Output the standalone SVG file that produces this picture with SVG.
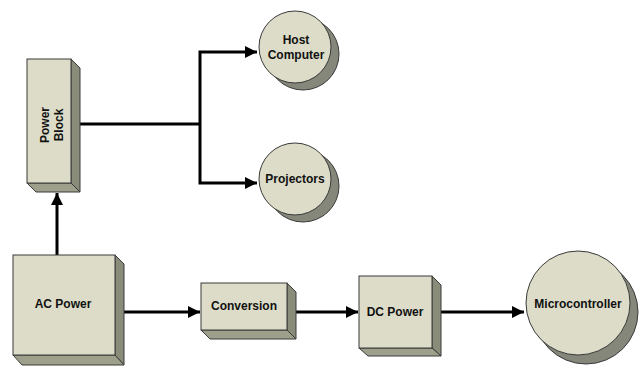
<svg xmlns="http://www.w3.org/2000/svg" width="640" height="367" viewBox="0 0 640 367">
<defs>
<style>
.face{fill:#dcdcc8;stroke:#3a3a3a;stroke-width:1}
.side{fill:#8a8c7a;stroke:#3a3a3a;stroke-width:1}
.bot{fill:#9ea08c;stroke:#3a3a3a;stroke-width:1}
.shadow{fill:#85877a;stroke:#3a3a3a;stroke-width:1}
.lbl{font-family:"Liberation Sans",Arial,sans-serif;font-size:12px;font-weight:bold;fill:#111;text-anchor:middle}
.conn{fill:none;stroke:#000;stroke-width:3}
</style>
<marker id="arr" markerUnits="userSpaceOnUse" markerWidth="12" markerHeight="12" viewBox="0 0 12 12" refX="12" refY="6" orient="auto">
<path d="M0,0 L12,6 L0,12 Z" fill="#000"/>
</marker>
</defs>
<rect width="640" height="367" fill="#fff"/>
<g id="connectors">
<path class="conn" d="M57,255 V193" marker-end="url(#arr)"/>
<path class="conn" d="M78,124 H200"/>
<path class="conn" d="M200,124 V52 H257" marker-end="url(#arr)"/>
<path class="conn" d="M200,124 V183 H257" marker-end="url(#arr)"/>
<path class="conn" d="M121,312 H200" marker-end="url(#arr)"/>
<path class="conn" d="M295,312 H358" marker-end="url(#arr)"/>
<path class="conn" d="M438,312 H524" marker-end="url(#arr)"/>
</g>
<g id="power-block">
<polygon class="side" points="71,59 80,68 80,192 71,183"/>
<polygon class="bot" points="27,183 71,183 80,192 36,192"/>
<rect class="face" x="27" y="59" width="44" height="124"/>
<text class="lbl" transform="translate(52,125) rotate(-90)"><tspan x="0" y="-3">Power</tspan><tspan x="0" y="11">Block</tspan></text>
</g>
<g id="host-computer">
<circle class="shadow" cx="303" cy="54" r="36"/>
<circle class="face" cx="295" cy="47" r="36"/>
<text class="lbl"><tspan x="296" y="44">Host</tspan><tspan x="296" y="59">Computer</tspan></text>
</g>
<g id="projectors">
<circle class="shadow" cx="303" cy="186" r="36"/>
<circle class="face" cx="295" cy="179" r="36"/>
<text class="lbl" x="295" y="183">Projectors</text>
</g>
<g id="ac-power">
<polygon class="side" points="115,255 124,264 124,365 115,355"/>
<polygon class="bot" points="13,355 115,355 124,365 22,365"/>
<rect class="face" x="13" y="255" width="102" height="100"/>
<text class="lbl" x="63" y="308">AC Power</text>
</g>
<g id="conversion">
<polygon class="side" points="287,283 296,292 296,339 287,330"/>
<polygon class="bot" points="201,330 287,330 296,339 210,339"/>
<rect class="face" x="201" y="283" width="86" height="47"/>
<text class="lbl" x="244" y="310">Conversion</text>
</g>
<g id="dc-power">
<polygon class="side" points="432,276 441,285 441,356 432,348"/>
<polygon class="bot" points="359,348 432,348 441,356 368,356"/>
<rect class="face" x="359" y="276" width="73" height="72"/>
<text class="lbl" x="395" y="316">DC Power</text>
</g>
<g id="microcontroller">
<circle class="shadow" cx="586" cy="312" r="52"/>
<circle class="face" cx="578" cy="303" r="52"/>
<text class="lbl" x="578" y="308">Microcontroller</text>
</g>
</svg>
